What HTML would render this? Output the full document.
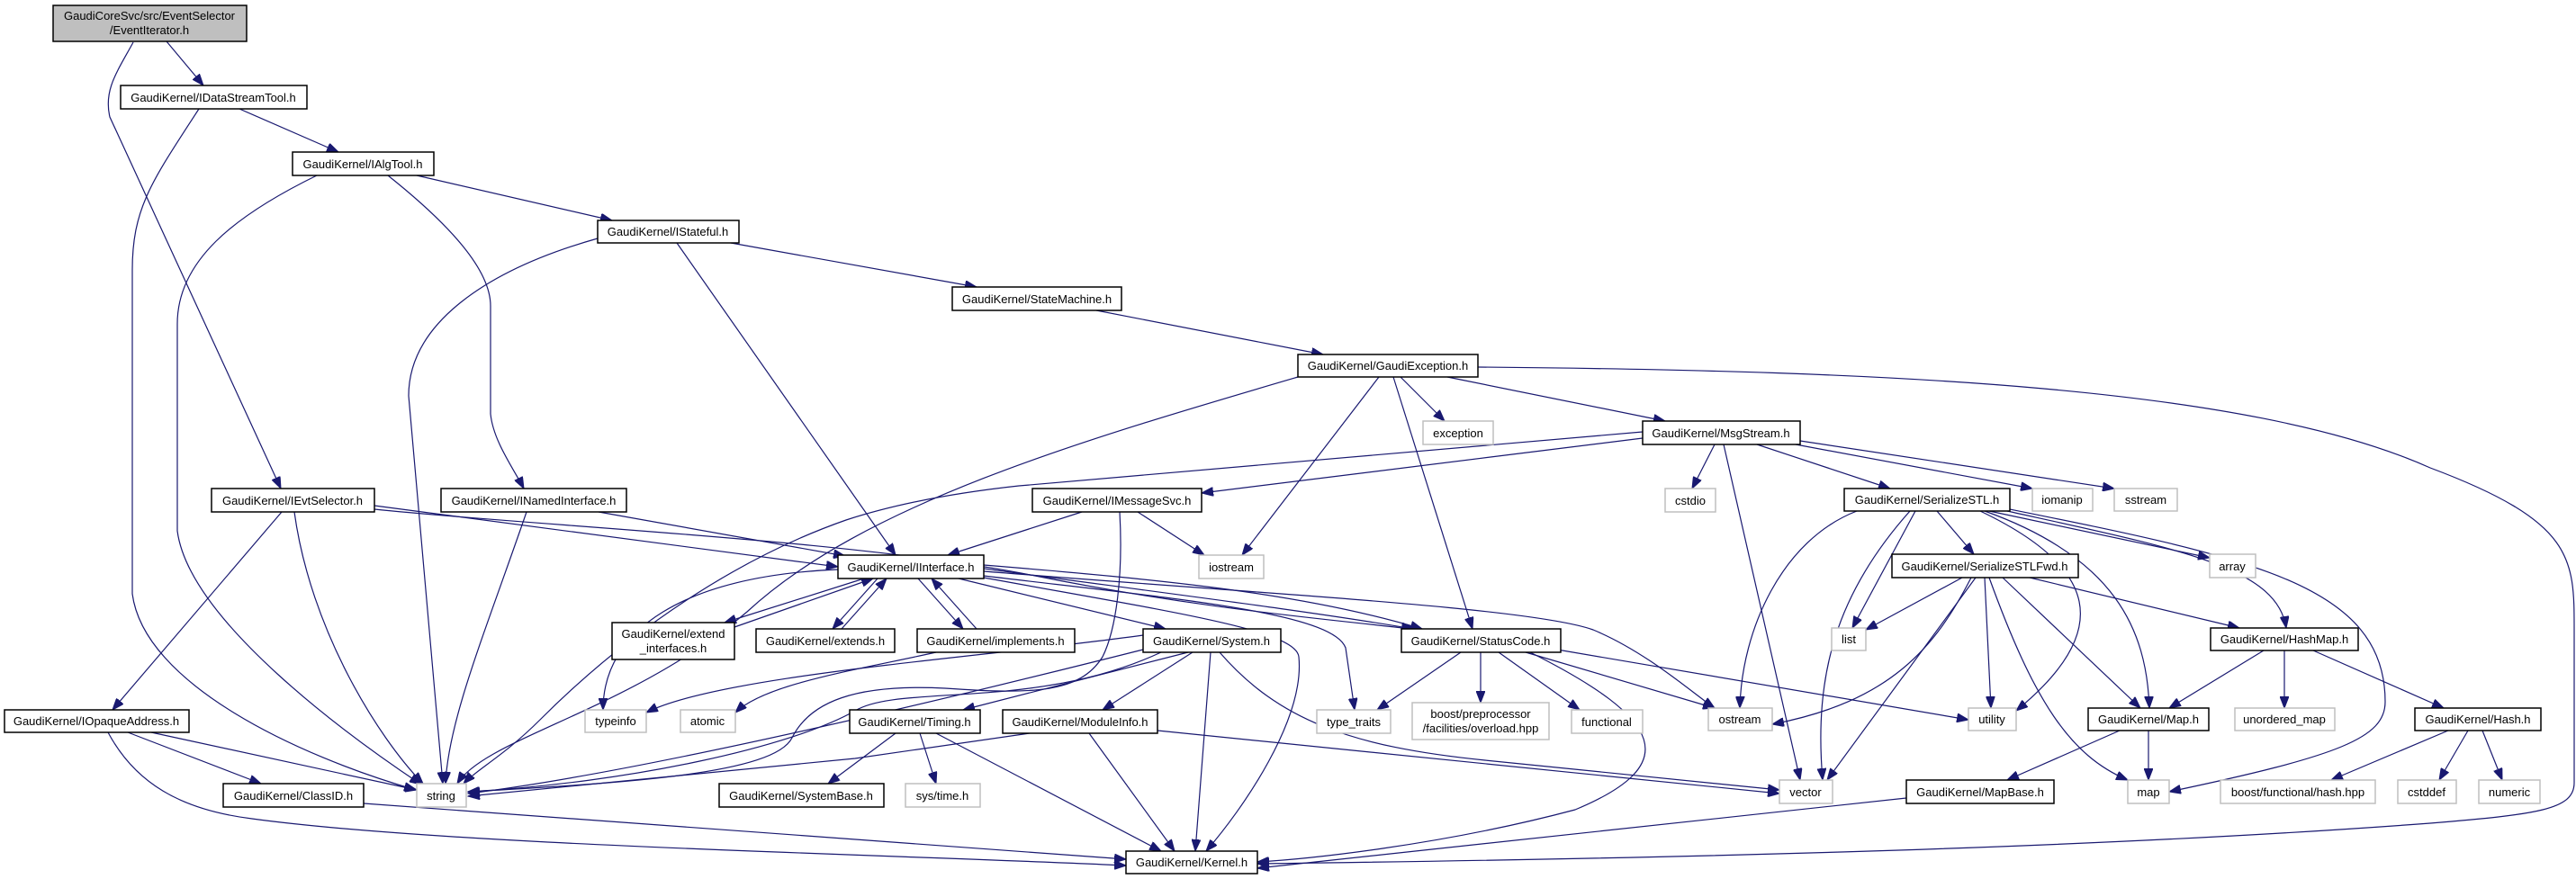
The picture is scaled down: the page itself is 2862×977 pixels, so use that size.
<!DOCTYPE html>
<html><head><meta charset="utf-8"><style>
html,body{margin:0;padding:0;background:#fff;width:2862px;height:977px;overflow:hidden}
svg text{font-family:"Liberation Sans",Arial,sans-serif;font-size:13px;fill:#000;text-anchor:middle}
</style></head><body>
<svg width="2862" height="977" viewBox="0 0 2862 977" xmlns="http://www.w3.org/2000/svg">
<defs><marker id="a" markerUnits="userSpaceOnUse" markerWidth="14" markerHeight="10" refX="13" refY="5" orient="auto"><path d="M0,0 L13,5 L0,10 z" fill="#191970" stroke="#191970"/></marker></defs>
<g fill="none" stroke="#191970" stroke-width="1.2" marker-end="url(#a)">
<path d="M185,46 L226,95"/>
<path d="M148,47 C130,80 115,100 122,130 L312,543"/>
<path d="M266,121 L376,169"/>
<path d="M221,121 C170,200 147,230 147,300 L147,660 C160,760 330,840 462,878"/>
<path d="M463,195 L680,245"/>
<path d="M431,195 C500,250 545,300 545,340 L545,460 C548,490 570,520 582,543"/>
<path d="M352,195 C260,240 197,290 197,360 L197,590 C210,690 390,820 468,872"/>
<path d="M812,270 L1085,319"/>
<path d="M752,270 L995,617"/>
<path d="M664,265 C540,300 454,360 454,440 L492,871"/>
<path d="M1218,345 L1470,394"/>
<path d="M1556,419 L1605,468"/>
<path d="M1608,419 L1850,468"/>
<path d="M1548,419 L1636,699"/>
<path d="M1532,419 L1380,617"/>
<path d="M1442,419 C1200,490 960,560 830,680 C700,790 540,820 508,871"/>
<path d="M1642,408 C2100,412 2500,430 2700,520 C2860,580 2860,620 2860,700 L2860,870 C2860,900 2820,905 2700,915 C2300,945 1800,955 1397,960"/>
<path d="M1825,487 L1335,548"/>
<path d="M1825,480 L1132,540 C1040,550 980,565 940,578 C820,620 700,700 600,800 C560,840 530,855 515,871"/>
<path d="M1952,494 L2100,543"/>
<path d="M1995,494 L2258,543"/>
<path d="M2000,490 L2349,543"/>
<path d="M1905,494 L1880,543"/>
<path d="M1915,494 L2000,867"/>
<path d="M1202,569 L1053,617"/>
<path d="M1264,569 L1338,617"/>
<path d="M1244,569 C1248,640 1240,700 1225,730 C1200,770 1150,772 1050,765 C950,760 900,780 880,820 C860,860 700,870 520,880"/>
<path d="M416,562 L931,630"/>
<path d="M416,566 C600,585 950,600 1150,640 C1350,680 1500,690 1574,700"/>
<path d="M313,569 L125,789"/>
<path d="M327,569 C345,700 420,820 470,871"/>
<path d="M665,569 L939,618"/>
<path d="M585,569 C540,700 498,800 495,871"/>
<path d="M931,633 C760,640 670,700 670,789"/>
<path d="M960,643 L805,692"/>
<path d="M816,697 L970,643"/>
<path d="M975,643 L925,699"/>
<path d="M935,699 L985,643"/>
<path d="M1020,643 L1070,699"/>
<path d="M1085,699 L1035,643"/>
<path d="M1065,643 L1295,699"/>
<path d="M1093,628 C1300,645 1450,660 1580,699"/>
<path d="M1093,632 C1300,660 1460,680 1570,699"/>
<path d="M1093,635 C1400,660 1700,675 1770,700 C1830,725 1880,770 1905,787"/>
<path d="M1093,640 C1300,665 1480,680 1495,720 L1505,789"/>
<path d="M1093,642 C1300,680 1440,700 1443,730 C1450,800 1380,900 1340,946"/>
<path d="M1270,706 C1100,730 800,750 718,792"/>
<path d="M1040,725 C950,745 850,760 817,792"/>
<path d="M1270,722 C1000,790 700,860 520,882"/>
<path d="M1290,725 C1150,790 1000,760 950,790 C880,830 700,870 520,880"/>
<path d="M1320,725 L1070,789"/>
<path d="M1325,725 L1225,789"/>
<path d="M1345,725 L1328,946"/>
<path d="M1355,725 C1420,800 1500,830 1650,845 C1800,860 1900,870 1977,878"/>
<path d="M995,815 L920,871"/>
<path d="M1022,815 L1040,871"/>
<path d="M1040,815 L1290,946"/>
<path d="M1144,815 L950,843 L520,885"/>
<path d="M1210,815 L1305,946"/>
<path d="M1286,812 L1977,882"/>
<path d="M1623,725 L1530,789"/>
<path d="M1645,725 L1645,781"/>
<path d="M1665,725 L1755,789"/>
<path d="M1695,725 L1905,787"/>
<path d="M1730,722 L2187,800"/>
<path d="M1700,725 C1850,800 1870,850 1750,900 C1600,940 1450,955 1397,958"/>
<path d="M142,814 L290,871"/>
<path d="M168,814 L463,878"/>
<path d="M120,814 C150,870 200,900 280,910 C500,940 1000,950 1251,962"/>
<path d="M404,893 L1251,955"/>
<path d="M2118,887 L1397,965"/>
<path d="M2152,568 L2193,616"/>
<path d="M2063,568 C1980,600 1935,700 1933,787"/>
<path d="M2122,568 C2040,660 2015,750 2025,867"/>
<path d="M2128,568 L2058,698"/>
<path d="M2200,568 C2330,630 2350,700 2240,790"/>
<path d="M2205,568 C2350,620 2385,700 2388,787"/>
<path d="M2210,568 L2455,620"/>
<path d="M2230,568 C2420,610 2530,630 2540,698"/>
<path d="M2233,566 C2500,620 2650,650 2650,780 C2650,820 2600,840 2410,880"/>
<path d="M2180,642 L2073,700"/>
<path d="M2190,642 C2150,720 2100,780 1969,805"/>
<path d="M2195,642 L2030,867"/>
<path d="M2205,642 L2212,787"/>
<path d="M2210,642 C2260,780 2300,840 2364,867"/>
<path d="M2225,642 L2378,787"/>
<path d="M2255,642 L2488,698"/>
<path d="M2515,723 L2410,787"/>
<path d="M2538,723 L2538,787"/>
<path d="M2570,723 L2715,787"/>
<path d="M2355,812 L2230,867"/>
<path d="M2387,812 L2387,867"/>
<path d="M2720,812 L2590,867"/>
<path d="M2742,812 L2710,867"/>
<path d="M2758,812 L2780,867"/>
</g>
<g stroke-width="1.5">
<rect x="59" y="6" width="215" height="40" fill="#bfbfbf" stroke="#000"/>
<g fill="#fff" stroke="#000">
<rect x="134" y="95" width="207" height="26"/>
<rect x="325" y="169" width="157" height="26"/>
<rect x="664" y="245" width="157" height="25"/>
<rect x="1058" y="319" width="188" height="26"/>
<rect x="1442" y="394" width="200" height="25"/>
<rect x="1825" y="468" width="175" height="26"/>
<rect x="1147" y="543" width="188" height="26"/>
<rect x="235" y="543" width="181" height="26"/>
<rect x="490" y="543" width="206" height="26"/>
<rect x="2049" y="543" width="184" height="25"/>
<rect x="931" y="617" width="162" height="26"/>
<rect x="2102" y="616" width="207" height="26"/>
<rect x="680" y="692" width="136" height="41"/>
<rect x="840" y="699" width="154" height="26"/>
<rect x="1019" y="699" width="175" height="26"/>
<rect x="1270" y="699" width="153" height="26"/>
<rect x="1557" y="699" width="177" height="26"/>
<rect x="2456" y="698" width="164" height="25"/>
<rect x="5" y="789" width="205" height="25"/>
<rect x="944" y="789" width="145" height="26"/>
<rect x="1114" y="789" width="172" height="26"/>
<rect x="2320" y="787" width="134" height="25"/>
<rect x="2683" y="787" width="140" height="25"/>
<rect x="248" y="871" width="156" height="26"/>
<rect x="799" y="871" width="183" height="26"/>
<rect x="2118" y="867" width="164" height="26"/>
<rect x="1251" y="946" width="146" height="25"/>
</g>
<g fill="#fff" stroke="#bfbfbf">
<rect x="1581" y="468" width="78" height="26"/>
<rect x="1850" y="543" width="56" height="26"/>
<rect x="2258" y="543" width="67" height="25"/>
<rect x="2349" y="543" width="70" height="25"/>
<rect x="1332" y="617" width="72" height="26"/>
<rect x="2455" y="616" width="51" height="26"/>
<rect x="2035" y="698" width="38" height="25"/>
<rect x="650" y="789" width="68" height="25"/>
<rect x="756" y="789" width="61" height="25"/>
<rect x="1463" y="789" width="82" height="26"/>
<rect x="1569" y="781" width="152" height="41"/>
<rect x="1746" y="789" width="79" height="26"/>
<rect x="1898" y="787" width="71" height="25"/>
<rect x="2187" y="787" width="53" height="25"/>
<rect x="2483" y="787" width="111" height="25"/>
<rect x="463" y="871" width="55" height="26"/>
<rect x="1006" y="871" width="83" height="26"/>
<rect x="1977" y="867" width="59" height="26"/>
<rect x="2364" y="867" width="46" height="26"/>
<rect x="2467" y="867" width="172" height="26"/>
<rect x="2664" y="867" width="65" height="26"/>
<rect x="2754" y="867" width="68" height="26"/>
</g>
</g>
<text x="166" y="22">GaudiCoreSvc/src/EventSelector</text>
<text x="166" y="38">/EventIterator.h</text>
<text x="237" y="113">GaudiKernel/IDataStreamTool.h</text>
<text x="403" y="187">GaudiKernel/IAlgTool.h</text>
<text x="742" y="262">GaudiKernel/IStateful.h</text>
<text x="1152" y="337">GaudiKernel/StateMachine.h</text>
<text x="1542" y="411">GaudiKernel/GaudiException.h</text>
<text x="1620" y="486">exception</text>
<text x="1912" y="486">GaudiKernel/MsgStream.h</text>
<text x="1878" y="561">cstdio</text>
<text x="1241" y="561">GaudiKernel/IMessageSvc.h</text>
<text x="325" y="561">GaudiKernel/IEvtSelector.h</text>
<text x="593" y="561">GaudiKernel/INamedInterface.h</text>
<text x="2141" y="560">GaudiKernel/SerializeSTL.h</text>
<text x="2291" y="560">iomanip</text>
<text x="2384" y="560">sstream</text>
<text x="1012" y="635">GaudiKernel/IInterface.h</text>
<text x="1368" y="635">iostream</text>
<text x="2205" y="634">GaudiKernel/SerializeSTLFwd.h</text>
<text x="2480" y="634">array</text>
<text x="748" y="709">GaudiKernel/extend</text>
<text x="748" y="725">_interfaces.h</text>
<text x="917" y="717">GaudiKernel/extends.h</text>
<text x="1106" y="717">GaudiKernel/implements.h</text>
<text x="1346" y="717">GaudiKernel/System.h</text>
<text x="1645" y="717">GaudiKernel/StatusCode.h</text>
<text x="2054" y="715">list</text>
<text x="2538" y="715">GaudiKernel/HashMap.h</text>
<text x="107" y="806">GaudiKernel/IOpaqueAddress.h</text>
<text x="684" y="806">typeinfo</text>
<text x="786" y="806">atomic</text>
<text x="1016" y="807">GaudiKernel/Timing.h</text>
<text x="1200" y="807">GaudiKernel/ModuleInfo.h</text>
<text x="1504" y="807">type_traits</text>
<text x="1645" y="798">boost/preprocessor</text>
<text x="1645" y="814">/facilities/overload.hpp</text>
<text x="1785" y="807">functional</text>
<text x="1933" y="804">ostream</text>
<text x="2213" y="804">utility</text>
<text x="2387" y="804">GaudiKernel/Map.h</text>
<text x="2538" y="804">unordered_map</text>
<text x="2753" y="804">GaudiKernel/Hash.h</text>
<text x="326" y="889">GaudiKernel/ClassID.h</text>
<text x="490" y="889">string</text>
<text x="890" y="889">GaudiKernel/SystemBase.h</text>
<text x="1047" y="889">sys/time.h</text>
<text x="2006" y="885">vector</text>
<text x="2200" y="885">GaudiKernel/MapBase.h</text>
<text x="2387" y="885">map</text>
<text x="2553" y="885">boost/functional/hash.hpp</text>
<text x="2696" y="885">cstddef</text>
<text x="2788" y="885">numeric</text>
<text x="1324" y="963">GaudiKernel/Kernel.h</text>
</svg>
</body></html>
